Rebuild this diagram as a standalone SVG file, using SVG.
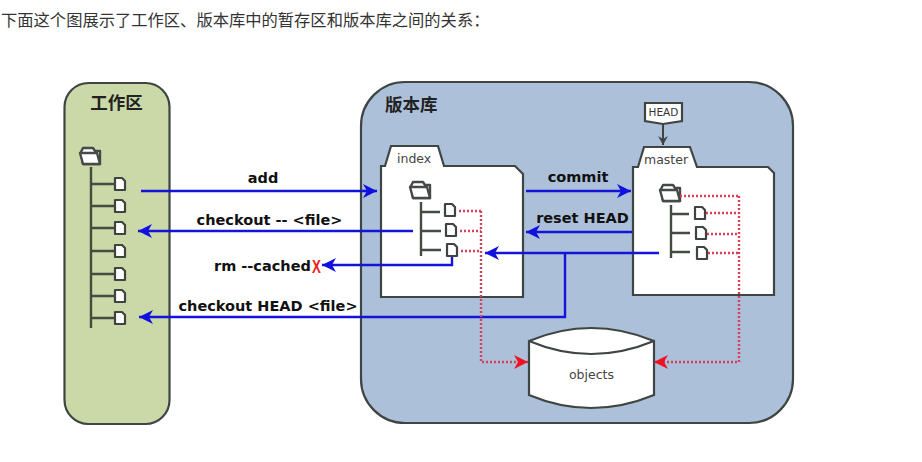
<svg xmlns="http://www.w3.org/2000/svg" width="922" height="462" viewBox="0 0 922 462">
<style>
.box{stroke:#3f4543;stroke-width:2.200}
.folder{fill:#fff;stroke:#454a48;stroke-width:2.400;stroke-linejoin:round}
.doc{fill:#fff;stroke:#3f4440;stroke-width:2.200;stroke-linejoin:round}
.tree{fill:none;stroke:#454b40;stroke-width:2.400}
.blue{fill:none;stroke:#1414d8;stroke-width:2.400}
.red{fill:none;stroke:#d8405a;stroke-width:2.400;stroke-dasharray:2 2}
.cmd{font-family:"DejaVu Sans",sans-serif;font-weight:700;font-size:14.500px;fill:#111}
.cn{font-family:"Noto Sans CJK SC",sans-serif;font-weight:700;font-size:17.500px;fill:#222}
.tag{font-family:"DejaVu Sans",sans-serif;font-size:12.500px;fill:#444}
</style>
<defs>
<marker id="ab" markerUnits="userSpaceOnUse" markerWidth="15" markerHeight="14" refX="14" refY="7" orient="auto-start-reverse"><path d="M0 0L14 7L0 14L4 7Z" fill="#1010e0"/></marker>
<marker id="ar" markerUnits="userSpaceOnUse" markerWidth="15" markerHeight="14" refX="14" refY="7" orient="auto-start-reverse"><path d="M0 0L14 7L0 14L4 7Z" fill="#ee1122"/></marker>
<marker id="ag" markerUnits="userSpaceOnUse" markerWidth="10" markerHeight="10" refX="9" refY="5" orient="auto"><path d="M0 0L9 5L0 10L3 5Z" fill="#3f4543"/></marker>
<g id="fld"><path class="folder" d="M1 5L3 1H13L15 4H20V17H3Z"/><path class="folder" d="M0 6H17L20 17H3Z"/></g>
<path id="doc" class="doc" d="M0 0H7L10 3V12H0Z"/>
</defs>
<text x="1" y="26" font-family="'Noto Sans CJK SC',sans-serif" font-size="16.300" fill="#333">下面这个图展示了工作区、版本库中的暂存区和版本库之间的关系：</text>

<g id="workspace">
<rect class="box" x="64.500" y="83" width="105" height="341" rx="24" fill="#cbd9a8"/>
<text class="cn" x="116.500" y="109" text-anchor="middle">工作区</text>
<use href="#fld" x="80" y="147"/>
<path class="tree" d="M91 167V328M91 184H115M91 206H115M91 228H115M91 251H115M91 274H115M91 296H115M91 318H115"/>
<use href="#doc" x="115" y="178"/><use href="#doc" x="115" y="200"/><use href="#doc" x="115" y="222"/><use href="#doc" x="115" y="245"/><use href="#doc" x="115" y="268"/><use href="#doc" x="115" y="290"/><use href="#doc" x="115" y="312"/>
</g>

<g id="repository">
<rect class="box" x="361" y="82" width="432" height="341" rx="44" fill="#adc0da"/>
<text class="cn" x="385" y="111">版本库</text>
</g>

<g id="index">
<path class="box" fill="#fff" d="M381 297V166H385L391 146H438L444 166H515L523 174V297Z"/>
<text class="tag" x="397" y="163">index</text>
<use href="#fld" x="410" y="181"/>
<path class="tree" d="M421 202V256M421 212H440M421 231H441M421 250H441"/>
<use href="#doc" x="445" y="204"/><use href="#doc" x="446" y="224"/><use href="#doc" x="447" y="244"/>
</g>

<g id="master">
<path class="box" fill="#fff" d="M633 295V167H638L644 147H690L697 167H768L774 173V295Z"/>
<text class="tag" x="644" y="164">master</text>
<use href="#fld" x="660" y="184"/>
<path class="tree" d="M671 205V258M671 214H689M671 233H690M671 252H690"/>
<use href="#doc" x="695" y="207"/><use href="#doc" x="696" y="227"/><use href="#doc" x="697" y="247"/>
</g>

<g id="head">
<path class="box" fill="#fff" d="M645 103H682V121L663 124L645 121Z"/>
<text x="663.500" y="116" text-anchor="middle" font-family="'DejaVu Sans',sans-serif" font-size="10.500" fill="#333">HEAD</text>
</g>

<g id="objects">
<path class="box" fill="#fff" d="M529 341Q591 315 654 341V395Q591 421 529 395Z"/>
<path fill="none" class="box" d="M529 341Q591 367 654 341"/>
<text x="591.500" y="379" text-anchor="middle" font-family="'DejaVu Sans',sans-serif" font-size="12.500" fill="#444">objects</text>
</g>

<g id="connectors">
<path class="blue" d="M141 191H377" marker-end="url(#ab)"/>
<path class="blue" d="M413 231H138" marker-end="url(#ab)"/>
<path class="blue" d="M452 257V265H322" marker-end="url(#ab)"/>
<path class="blue" d="M565 253V317H139" marker-end="url(#ab)"/>
<path class="blue" d="M526 191H631" marker-end="url(#ab)"/>
<path class="blue" d="M632 232H526" marker-end="url(#ab)"/>
<path class="blue" d="M659 253H485" marker-end="url(#ab)"/>
<path d="M663 124V145" fill="none" stroke="#3f4543" stroke-width="2" marker-end="url(#ag)"/>
<path class="red" d="M459 211H481M460 231H481M461 251H481M481 211V362H528" marker-end="url(#ar)"/>
<path class="red" d="M680 196H739M706 213H739M707 234H739M708 253H739M739 196V362H654" marker-end="url(#ar)"/>
</g>

<g id="labels">
<text class="cmd" x="263" y="183" text-anchor="middle">add</text>
<text class="cmd" x="269.500" y="225" text-anchor="middle">checkout -- &lt;file&gt;</text>
<text class="cmd" x="214" y="271">rm --cached</text>
<text transform="translate(316.500 273) scale(0.7 1)" text-anchor="middle" font-family="'Liberation Sans',sans-serif" font-weight="700" font-size="19" fill="#ee2222">X</text>
<text class="cmd" x="268" y="311" text-anchor="middle">checkout HEAD &lt;file&gt;</text>
<text class="cmd" x="578" y="182" text-anchor="middle">commit</text>
<text class="cmd" x="582.500" y="223" text-anchor="middle">reset HEAD</text>
</g>
</svg>
